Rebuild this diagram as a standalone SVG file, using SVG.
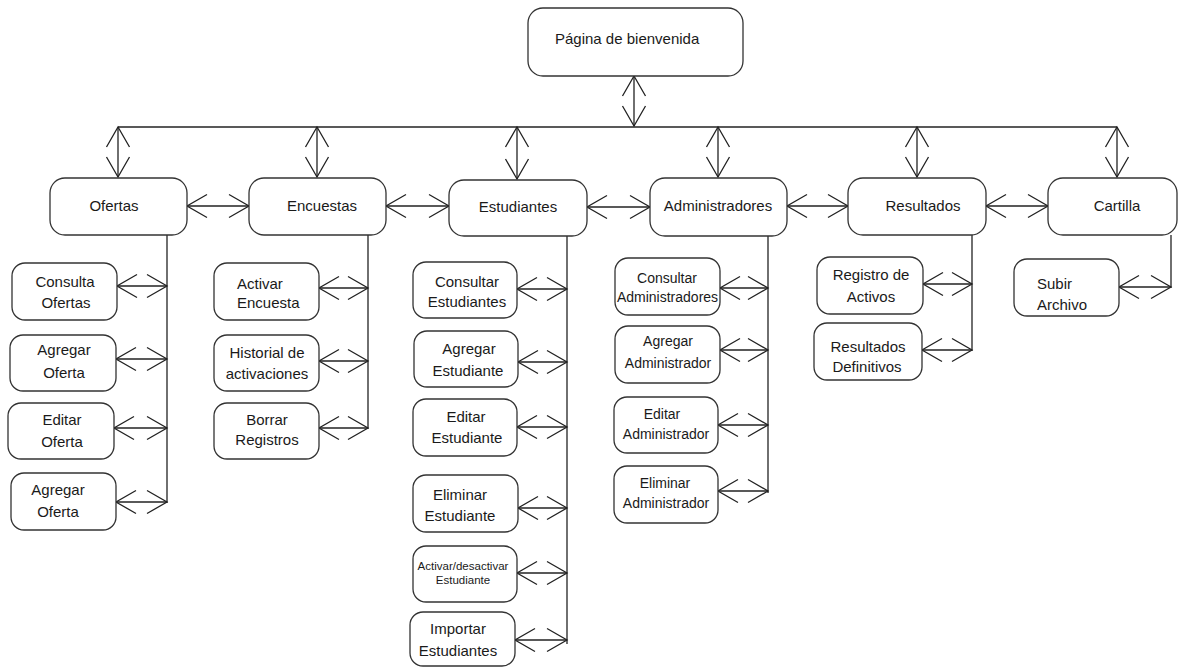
<svg xmlns="http://www.w3.org/2000/svg" width="1179" height="668" viewBox="0 0 1179 668">
<defs>
<marker id="ah" viewBox="-22 -13 24 26" refX="0" refY="0" markerWidth="24" markerHeight="26" markerUnits="userSpaceOnUse" orient="auto-start-reverse" overflow="visible">
<path d="M-20,-11.5 L0,0 L-20,11.5" fill="none" stroke="#222" stroke-width="1.3"/>
</marker>
<style>
.b{fill:#fff;stroke:#333;stroke-width:1.3}
.t{font-family:"Liberation Sans",Arial,sans-serif;font-size:15px;fill:#1a1a1a;text-anchor:middle}
.l{text-anchor:start}
.s14{font-size:14px}
.s11{font-size:11.5px}
.c{fill:none;stroke:#222;stroke-width:1.3}
.a{fill:none;stroke:#222;stroke-width:1.3;marker-start:url(#ah);marker-end:url(#ah)}
</style>
</defs>
<rect width="1179" height="668" fill="#fff"/>
<g id="connectors">
<line class="c" x1="118" y1="127" x2="1117" y2="127"/>
<line class="a" x1="634" y1="76" x2="634" y2="126"/>
<line class="a" x1="118" y1="127" x2="118" y2="177"/>
<line class="a" x1="317" y1="127" x2="317" y2="177"/>
<line class="a" x1="517" y1="127" x2="517" y2="179"/>
<line class="a" x1="718" y1="127" x2="718" y2="177"/>
<line class="a" x1="917" y1="127" x2="917" y2="177"/>
<line class="a" x1="1117" y1="127" x2="1117" y2="177"/>
<line class="a" x1="187" y1="206" x2="249" y2="206"/>
<line class="a" x1="386" y1="206" x2="449" y2="206"/>
<line class="a" x1="587" y1="207" x2="650" y2="207"/>
<line class="a" x1="787" y1="206" x2="848" y2="206"/>
<line class="a" x1="986" y1="206" x2="1048" y2="206"/>
<line class="c" x1="167" y1="235" x2="167" y2="503"/>
<line class="c" x1="368" y1="235" x2="368" y2="429"/>
<line class="c" x1="567" y1="236" x2="567" y2="644"/>
<line class="c" x1="768" y1="236" x2="768" y2="493"/>
<line class="c" x1="972" y1="235" x2="972" y2="351"/>
<line class="c" x1="1171" y1="235" x2="1171" y2="288"/>
<line class="a" x1="117" y1="286" x2="167" y2="286"/>
<line class="a" x1="116" y1="359" x2="167" y2="359"/>
<line class="a" x1="114" y1="428" x2="167" y2="428"/>
<line class="a" x1="116" y1="502" x2="167" y2="502"/>
<line class="a" x1="319" y1="288" x2="368" y2="288"/>
<line class="a" x1="319" y1="361" x2="368" y2="361"/>
<line class="a" x1="319" y1="428" x2="368" y2="428"/>
<line class="a" x1="517" y1="289" x2="567" y2="289"/>
<line class="a" x1="518" y1="362" x2="567" y2="362"/>
<line class="a" x1="517" y1="427" x2="567" y2="427"/>
<line class="a" x1="518" y1="508" x2="567" y2="508"/>
<line class="a" x1="517" y1="573" x2="567" y2="573"/>
<line class="a" x1="515" y1="640" x2="567" y2="640"/>
<line class="a" x1="720" y1="288" x2="768" y2="288"/>
<line class="a" x1="720" y1="350" x2="768" y2="350"/>
<line class="a" x1="718" y1="425" x2="768" y2="425"/>
<line class="a" x1="718" y1="491" x2="768" y2="491"/>
<line class="a" x1="923" y1="284" x2="972" y2="284"/>
<line class="a" x1="922" y1="350" x2="972" y2="350"/>
<line class="a" x1="1119" y1="287" x2="1171" y2="287"/>
</g>
<g id="bienvenida"><rect class="b" x="528" y="8" width="215" height="68" rx="15"/><text class="t l" x="555" y="44">Página de bienvenida</text></g>
<g id="ofertas"><rect class="b" x="50" y="178" width="137" height="57" rx="15"/><text class="t" x="114" y="211">Ofertas</text></g>
<g id="encuestas"><rect class="b" x="249" y="178" width="137" height="57" rx="15"/><text class="t" x="322" y="211">Encuestas</text></g>
<g id="estudiantes"><rect class="b" x="449" y="180" width="138" height="56" rx="15"/><text class="t" x="518" y="212">Estudiantes</text></g>
<g id="administradores"><rect class="b" x="650" y="178" width="137" height="58" rx="15"/><text class="t" x="718" y="211">Administradores</text></g>
<g id="resultados"><rect class="b" x="848" y="178" width="138" height="57" rx="15"/><text class="t" x="923" y="211">Resultados</text></g>
<g id="cartilla"><rect class="b" x="1048" y="178" width="129" height="57" rx="15"/><text class="t" x="1117" y="211">Cartilla</text></g>
<g id="consulta-ofertas"><rect class="b" x="12" y="263" width="105" height="57" rx="13"/><text class="t" x="65" y="287">Consulta</text><text class="t" x="66" y="308">Ofertas</text></g>
<g id="agregar-oferta-1"><rect class="b" x="10" y="335" width="106" height="56" rx="13"/><text class="t" x="64" y="355">Agregar</text><text class="t" x="64" y="378">Oferta</text></g>
<g id="editar-oferta"><rect class="b" x="8" y="403" width="106" height="56" rx="13"/><text class="t" x="62" y="425">Editar</text><text class="t" x="62" y="447">Oferta</text></g>
<g id="agregar-oferta-2"><rect class="b" x="11" y="473" width="105" height="57" rx="13"/><text class="t" x="58" y="495">Agregar</text><text class="t" x="58" y="517">Oferta</text></g>
<g id="activar-encuesta"><rect class="b" x="214" y="263" width="105" height="57" rx="13"/><text class="t l" x="237" y="289">Activar</text><text class="t l" x="237" y="308">Encuesta</text></g>
<g id="historial"><rect class="b" x="214" y="335" width="105" height="56" rx="13"/><text class="t" x="267" y="358">Historial de</text><text class="t" x="267" y="379">activaciones</text></g>
<g id="borrar-registros"><rect class="b" x="214" y="403" width="105" height="56" rx="13"/><text class="t" x="267" y="425">Borrar</text><text class="t" x="267" y="445">Registros</text></g>
<g id="consultar-estudiantes"><rect class="b" x="413" y="262" width="104" height="56" rx="13"/><text class="t" x="467" y="287">Consultar</text><text class="t" x="467" y="307">Estudiantes</text></g>
<g id="agregar-estudiante"><rect class="b" x="414" y="331" width="104" height="56" rx="13"/><text class="t" x="469" y="354">Agregar</text><text class="t" x="468" y="376">Estudiante</text></g>
<g id="editar-estudiante"><rect class="b" x="413" y="399" width="104" height="57" rx="13"/><text class="t" x="466" y="422">Editar</text><text class="t" x="467" y="443">Estudiante</text></g>
<g id="eliminar-estudiante"><rect class="b" x="413" y="475" width="105" height="57" rx="13"/><text class="t" x="460" y="500">Eliminar</text><text class="t" x="460" y="521">Estudiante</text></g>
<g id="activar-desactivar"><rect class="b" x="413" y="546" width="104" height="56" rx="13"/><text class="t s11" x="463" y="570">Activar/desactivar</text><text class="t s11" x="463" y="584">Estudiante</text></g>
<g id="importar-estudiantes"><rect class="b" x="410" y="612" width="105" height="54" rx="13"/><text class="t" x="458" y="634">Importar</text><text class="t" x="458" y="656">Estudiantes</text></g>
<g id="consultar-administradores"><rect class="b" x="615" y="258" width="105" height="57" rx="13"/><text class="t s14" x="667" y="283">Consultar</text><text class="t s14" x="667.5" y="302">Administradores</text></g>
<g id="agregar-administrador"><rect class="b" x="615" y="326" width="105" height="57" rx="13"/><text class="t s14" x="668" y="346">Agregar</text><text class="t s14" x="668" y="368">Administrador</text></g>
<g id="editar-administrador"><rect class="b" x="614" y="397" width="104" height="56" rx="13"/><text class="t s14" x="662" y="419">Editar</text><text class="t s14" x="666" y="439">Administrador</text></g>
<g id="eliminar-administrador"><rect class="b" x="614" y="466" width="104" height="57" rx="13"/><text class="t s14" x="665" y="488">Eliminar</text><text class="t s14" x="666" y="508">Administrador</text></g>
<g id="registro-activos"><rect class="b" x="817" y="257" width="106" height="57" rx="13"/><text class="t" x="871" y="280">Registro de</text><text class="t" x="871" y="302">Activos</text></g>
<g id="resultados-definitivos"><rect class="b" x="814" y="323" width="108" height="57" rx="13"/><text class="t" x="868" y="352">Resultados</text><text class="t" x="867" y="372">Definitivos</text></g>
<g id="subir-archivo"><rect class="b" x="1014" y="259" width="105" height="57" rx="13"/><text class="t l" x="1037" y="289">Subir</text><text class="t l" x="1037" y="310">Archivo</text></g>
</svg>
